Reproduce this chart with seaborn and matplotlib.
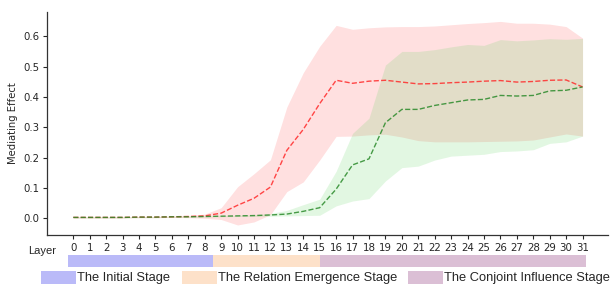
import numpy as np
import pandas as pd
import matplotlib.pyplot as plt
from matplotlib.patches import Rectangle
import seaborn as sns

# data
layers = list(range(32))

red_mean = [0.003, 0.003, 0.003, 0.003, 0.004, 0.004, 0.005, 0.006, 0.008, 0.017,
            0.043, 0.066, 0.103, 0.224, 0.293, 0.378, 0.455, 0.445, 0.452, 0.455,
            0.449, 0.443, 0.444, 0.447, 0.449, 0.452, 0.454, 0.449, 0.451, 0.455,
            0.456, 0.433]
red_upper = [0.005, 0.005, 0.005, 0.005, 0.006, 0.006, 0.007, 0.009, 0.014, 0.035,
             0.104, 0.147, 0.193, 0.367, 0.480, 0.567, 0.636, 0.623, 0.628, 0.631,
             0.632, 0.632, 0.634, 0.638, 0.642, 0.645, 0.649, 0.643, 0.643, 0.640,
             0.632, 0.594]
red_lower = [0.001, 0.001, 0.001, 0.001, 0.002, 0.002, 0.003, 0.002, 0.000, -0.004,
             -0.022, -0.012, 0.012, 0.088, 0.120, 0.192, 0.270, 0.271, 0.275, 0.277,
             0.268, 0.256, 0.252, 0.252, 0.252, 0.253, 0.254, 0.255, 0.258, 0.268,
             0.278, 0.271]

green_mean = [0.003, 0.003, 0.003, 0.003, 0.004, 0.004, 0.005, 0.005, 0.006, 0.007,
              0.008, 0.009, 0.011, 0.014, 0.023, 0.035, 0.096, 0.176, 0.196, 0.315,
              0.359, 0.359, 0.372, 0.381, 0.390, 0.392, 0.405, 0.403, 0.405, 0.420,
              0.422, 0.433]
green_upper = [0.005, 0.005, 0.005, 0.005, 0.006, 0.006, 0.007, 0.007, 0.008, 0.009,
               0.010, 0.012, 0.016, 0.026, 0.045, 0.063, 0.155, 0.280, 0.330, 0.505,
               0.550, 0.550, 0.556, 0.565, 0.573, 0.570, 0.589, 0.585, 0.588, 0.592,
               0.590, 0.593]
green_lower = [0.001, 0.001, 0.001, 0.001, 0.002, 0.002, 0.003, 0.003, 0.004, 0.005,
               0.006, 0.006, 0.007, 0.008, 0.009, 0.010, 0.041, 0.057, 0.065, 0.123,
               0.167, 0.172, 0.192, 0.205, 0.208, 0.211, 0.220, 0.222, 0.226, 0.247,
               0.252, 0.271]

stage_names = ['The Initial Stage', 'The Relation Emergence Stage', 'The Conjoint Influence Stage']
stage_start = [-0.3, 8.5, 15.0]
stage_end = [8.5, 15.0, 31.2]
stage_colors = ['#babaf8', '#fde1c9', '#dbbfd5']

W, H = 612, 287


def fx(px):
    return px / W


def fy(py):
    return 1 - py / H


def main():
    sns.set_style('ticks')
    plt.rcParams['font.family'] = ['DejaVu Sans']

    df = pd.DataFrame({
        'layer': layers * 2,
        'effect': red_mean + green_mean,
        'series': ['red'] * len(layers) + ['green'] * len(layers),
    })

    fig = plt.figure(figsize=(W / 100, H / 100), dpi=100)
    ax = fig.add_axes([fx(47), fy(235), fx(608 - 47), (235 - 12) / H])

    ax.fill_between(layers, red_lower, red_upper, color='red', alpha=0.12, linewidth=0)
    ax.fill_between(layers, green_lower, green_upper, color='#4fcf4f', alpha=0.16, linewidth=0)
    sns.lineplot(data=df, x='layer', y='effect', hue='series',
                 palette={'red': '#ff2a2a', 'green': '#2a8a2a'},
                 linestyle='--', linewidth=1.0, alpha=0.85, legend=False, ax=ax)

    ax.set_xlim(-1.6, 32.55)
    ax.set_ylim(-0.055, 0.68)
    ax.set_xticks(layers)
    ax.set_xticklabels([str(l) for l in layers], fontsize=7.4)
    ax.set_yticks([0.0, 0.1, 0.2, 0.3, 0.4, 0.5, 0.6])
    ax.set_yticklabels(['0.0', '0.1', '0.2', '0.3', '0.4', '0.5', '0.6'], fontsize=7.3)
    ax.tick_params(axis='both', length=3, width=0.8, pad=2.5, colors='.15')
    ax.set_xlabel('')
    ax.set_ylabel('Mediating Effect', fontsize=7.2, labelpad=4)
    sns.despine(ax=ax)
    for s in ['left', 'bottom']:
        ax.spines[s].set_linewidth(0.9)
        ax.spines[s].set_color('.2')

    # stage bar under the ticks
    bar_ax = fig.add_axes([fx(47), fy(266.5), fx(608 - 47), 11.5 / H])
    widths = [e - s for s, e in zip(stage_start, stage_end)]
    bar_ax.barh([0, 0, 0], widths, left=stage_start, height=1.0,
                color=stage_colors, linewidth=0)
    bar_ax.set_xlim(-1.6, 32.55)
    bar_ax.set_ylim(-0.5, 0.5)
    bar_ax.axis('off')

    fig.text(fx(42), fy(251.5), 'Layer', fontsize=8, family='Liberation Sans',
             ha='center', va='center')

    # legend row
    patch_x = [41, 182, 408]
    for px, name, col in zip(patch_x, stage_names, stage_colors):
        fig.patches.append(Rectangle((fx(px), fy(284)), fx(35), 13 / H,
                                     transform=fig.transFigure, color=col,
                                     linewidth=0))
        fig.text(fx(px + 36), fy(278), name, fontsize=9.3, family='Liberation Sans',
                 ha='left', va='center')

    fig.savefig('out.png', dpi=100)
    plt.close(fig)


if __name__ == '__main__':
    main()
